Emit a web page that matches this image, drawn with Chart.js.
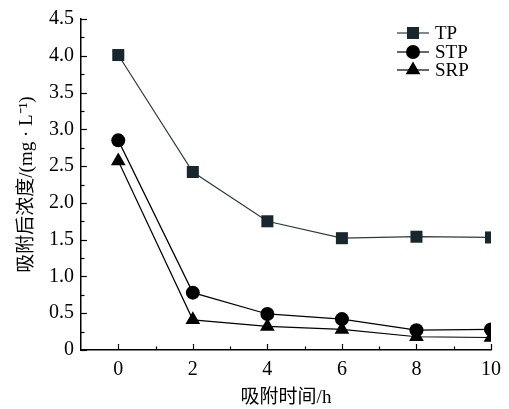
<!DOCTYPE html>
<html>
<head>
<meta charset="utf-8">
<script src="https://cdn.jsdelivr.net/npm/chart.js@4.4.1/dist/chart.umd.min.js"></script>
<style>
  html, body { margin: 0; padding: 0; background: #fff; }
  #wrap { width: 509px; height: 409px; position: relative; }
</style>
</head>
<body>
<div id="wrap"><canvas id="c" width="509" height="409"></canvas></div>
<script>
// Adsorption time (h) and phosphorus concentrations after adsorption (mg/L)
const hours = [0, 2, 4, 6, 8, 10];
const tpValues  = [4.01, 2.42, 1.75, 1.52, 1.54, 1.53];
const stpValues = [2.85, 0.78, 0.49, 0.42, 0.27, 0.28];
const srpValues = [2.57, 0.41, 0.32, 0.28, 0.18, 0.17];
const seriesNames = ['TP', 'STP', 'SRP'];
const xTickValues = [0, 2, 4, 6, 8, 10];
const yTickValues = [0, 0.5, 1.0, 1.5, 2.0, 2.5, 3.0, 3.5, 4.0, 4.5];

const serif = '"Liberation Serif", "Times New Roman", serif';
const cjk = '"Liberation Serif", "Noto Sans CJK SC", serif';

function pts(vals) { return hours.map((h, i) => ({ x: h, y: vals[i] })); }

const styles = [
  { color: '#2b3a40', fill: '#17272d', point: 'rect', radius: 8.5 },
  { color: '#000000', fill: '#000000', point: 'circle', radius: 7 },
  { color: '#000000', fill: '#000000', point: 'triangle', radius: 8.5 }
];
const seriesValues = [tpValues, stpValues, srpValues];

const datasets = seriesValues.map((vals, i) => ({
  label: seriesNames[i],
  data: pts(vals),
  borderColor: styles[i].color,
  backgroundColor: styles[i].fill,
  pointBackgroundColor: styles[i].fill,
  pointBorderColor: styles[i].fill,
  pointBorderWidth: 0,
  pointStyle: styles[i].point,
  pointRadius: styles[i].radius,
  borderWidth: 1.2,
  tension: 0,
  order: 3 - i
}));

// Inward major/minor ticks on both axes
const tickMarks = {
  id: 'tickMarks',
  afterDraw(chart) {
    const { ctx, scales: { x, y } } = chart;
    ctx.save();
    ctx.strokeStyle = '#000';
    ctx.lineWidth = 1.2;
    const yb = y.getPixelForValue(0);
    const xl = x.getPixelForValue(-1);
    for (let v = 0; v <= 10; v++) {
      const px = Math.round(x.getPixelForValue(v)) + 0.5;
      const len = v % 2 === 0 ? 6 : 3.5;
      ctx.beginPath(); ctx.moveTo(px, yb); ctx.lineTo(px, yb - len); ctx.stroke();
    }
    for (let k = 0; k <= 18; k++) {
      const v = k * 0.25;
      const py = Math.round(y.getPixelForValue(v)) + 0.5;
      const len = k % 2 === 0 ? 6 : 3.5;
      ctx.beginPath(); ctx.moveTo(xl, py); ctx.lineTo(xl + len, py); ctx.stroke();
    }
    ctx.restore();
  }
};

// Legend entries: short line with the series marker, then its name
const lineLegend = {
  id: 'lineLegend',
  afterDraw(chart) {
    const { ctx } = chart;
    ctx.save();
    const x0 = 397, x1 = 429, ys = [33, 52, 70];
    chart.data.datasets.forEach((ds, i) => {
      const yy = ys[i];
      ctx.strokeStyle = ds.borderColor;
      ctx.lineWidth = 1.2;
      ctx.beginPath(); ctx.moveTo(x0, yy); ctx.lineTo(x1, yy); ctx.stroke();
      ctx.fillStyle = ds.pointBackgroundColor;
      ctx.strokeStyle = ds.pointBackgroundColor;
      Chart.helpers.drawPoint(ctx, { pointStyle: ds.pointStyle, radius: ds.pointRadius, borderWidth: 0 }, (x0 + x1) / 2, yy);
      ctx.fillStyle = '#000';
      ctx.font = '19px ' + serif;
      ctx.textBaseline = 'middle';
      ctx.textAlign = 'left';
      ctx.fillText(ds.label, 435, yy + 1);
    });
    ctx.restore();
  }
};

new Chart(document.getElementById('c'), {
  type: 'line',
  data: { datasets },
  plugins: [tickMarks, lineLegend],
  options: {
    responsive: false,
    animation: false,
    layout: { padding: { left: 0, right: 12, top: 17, bottom: 0 } },
    plugins: { legend: { display: false }, tooltip: { enabled: false } },
    scales: {
      x: {
        type: 'linear',
        min: -1, max: 10,
        afterBuildTicks(s) { s.ticks = xTickValues.map(v => ({ value: v })); },
        afterFit(s) { s.height = 59; },
        grid: { display: false, drawTicks: false },
        border: { display: true, color: '#000', width: 1.5 },
        ticks: { color: '#000', font: { family: serif, size: 20 }, padding: 8, maxRotation: 0 },
        title: { display: true, text: '吸附时间/h', color: '#000', font: { family: cjk, size: 19 }, padding: { top: 0, bottom: 0 } }
      },
      y: {
        type: 'linear',
        min: 0, max: 4.5,
        afterBuildTicks(s) { s.ticks = yTickValues.map(v => ({ value: v })); },
        afterFit(s) { s.width = 81; },
        grid: { display: false, drawTicks: false },
        border: { display: true, color: '#000', width: 1.5 },
        ticks: {
          color: '#000', font: { family: serif, size: 20 }, padding: 7,
          callback: v => v === 0 ? '0' : v.toFixed(1)
        },
        title: { display: true, text: '吸附后浓度/(mg · L⁻¹)', color: '#000', font: { family: cjk, size: 19 }, padding: { top: 16, bottom: 0 } }
      }
    }
  }
});
</script>
</body>
</html>
